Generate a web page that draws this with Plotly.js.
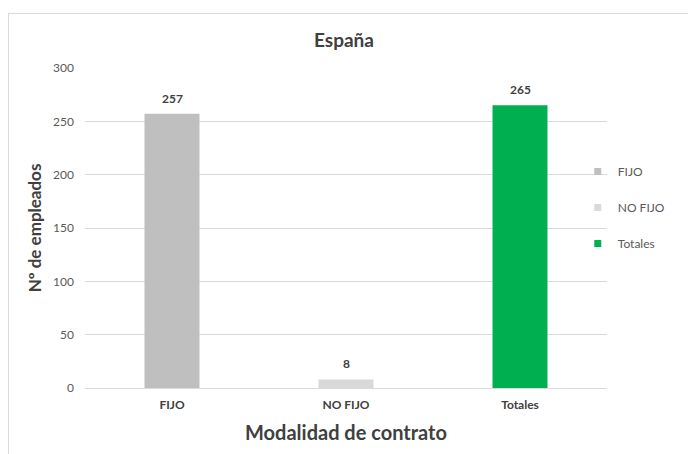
<!DOCTYPE html>
<html>
<head>
<meta charset="utf-8">
<script src="https://cdn.plot.ly/plotly-3.0.1.min.js"></script>
<style>
html,body{margin:0;padding:0;background:#fff;}
#wrap{position:relative;width:688px;height:454px;overflow:hidden;}
#chart{position:absolute;left:0;top:0;width:688px;height:454px;}
#frame{position:absolute;left:8px;top:13px;width:700px;height:460px;border:1px solid #d9d9d9;pointer-events:none;}
</style>
</head>
<body>
<div id="wrap"><div id="chart"></div><div id="frame"></div></div>
<script>
const categories = ["FIJO", "NO FIJO", "Totales"];
const seriesNames = ["FIJO", "NO FIJO", "Totales"];
const values = [257, 8, 265];
const colors = ["#bfbfbf", "#d9d9d9", "#00b050"];
const yTicks = [0, 50, 100, 150, 200, 250, 300];

const FONT = "Lato, 'Open Sans', sans-serif";
const traces = [];
const annotations = [];
categories.forEach((c, i) => {
  traces.push({
    type: "bar",
    name: seriesNames[i],
    x: [c],
    y: [values[i]],
    marker: {color: colors[i]},
    showlegend: false,
    hoverinfo: "x+y"
  });
  traces.push({
    type: "scatter",
    mode: "markers",
    name: seriesNames[i],
    legendgroup: "g" + i,
    x: [null],
    y: [null],
    marker: {symbol: "square", size: 7, color: colors[i]},
    showlegend: true,
    hoverinfo: "skip"
  });
  annotations.push({
    x: c, y: values[i], xref: "x", yref: "y",
    text: "<b>" + values[i] + "</b>",
    showarrow: false,
    yanchor: "bottom",
    yshift: 6,
    font: {family: FONT, size: 12, color: "#404040"}
  });
});

const layout = {
  width: 688,
  height: 454,
  margin: {l: 85, r: 81, t: 68, b: 66},
  paper_bgcolor: "#ffffff",
  plot_bgcolor: "#ffffff",
  font: {family: FONT, color: "#595959", size: 12},
  title: {
    text: "<b>España</b>",
    font: {family: FONT, size: 19, color: "#404040"},
    x: 0.5, xref: "container", xanchor: "center",
    y: 1 - 40 / 454, yref: "container", yanchor: "middle"
  },
  barmode: "overlay",
  bargap: 0.684,
  annotations: annotations,
  xaxis: {
    type: "category",
    categoryorder: "array",
    categoryarray: categories,
    showgrid: false,
    zeroline: false,
    showline: false,
    ticks: "",
    ticklabelstandoff: 8,
    tickfont: {family: FONT, size: 12, color: "#404040", weight: "bold"},
    title: {text: "<b>Modalidad de contrato</b>", font: {family: FONT, size: 20, color: "#404040"}, standoff: 14}
  },
  yaxis: {
    range: [0, 300],
    tickvals: yTicks,
    ticktext: yTicks.map(String),
    showgrid: true,
    gridcolor: "#d9d9d9",
    gridwidth: 1,
    zeroline: true,
    zerolinecolor: "#d9d9d9",
    zerolinewidth: 1,
    showline: false,
    ticks: "",
    ticklabelstandoff: 10,
    tickfont: {family: FONT, size: 12, color: "#595959"},
    title: {text: "<b>Nº de empleados</b>", font: {family: FONT, size: 17, color: "#404040"}, standoff: 7}
  },
  legend: {
    x: 0.944, xanchor: "left",
    y: 0.722, yanchor: "top",
    bgcolor: "rgba(0,0,0,0)",
    font: {family: FONT, size: 12, color: "#595959"},
    tracegroupgap: 17,
    traceorder: "grouped"
  },
  showlegend: true
};

Plotly.newPlot("chart", traces, layout, {displayModeBar: false, staticPlot: true});
</script>
</body>
</html>
